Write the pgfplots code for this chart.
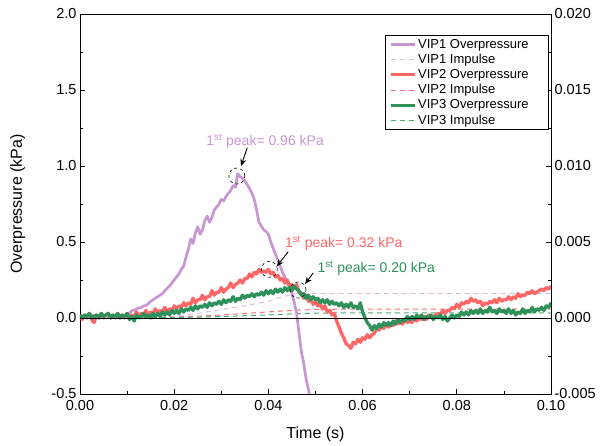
\documentclass[border=0pt]{standalone}
\usepackage{fontspec}
\setmainfont{Liberation Sans}
\usepackage{pgfplots}
\pgfplotsset{compat=1.18}
\usetikzlibrary{arrows.meta}
\definecolor{vpA}{RGB}{200,150,210}
\definecolor{vpAd}{RGB}{225,185,230}
\definecolor{vpB}{RGB}{255,102,102}
\definecolor{vpBd}{RGB}{255,110,110}
\definecolor{vpC}{RGB}{46,145,90}
\definecolor{vpCd}{RGB}{70,170,115}
\pgfplotsset{
  common/.style={scale only axis, width=471pt, height=380pt, xmin=0, xmax=0.1,
    tick align=inside, major tick length=5pt, minor tick length=3pt,
    every tick/.style={black, line width=0.8pt},
    tick label style={font=\fontsize{14.5}{16}\selectfont},
    /pgf/number format/assume math mode=true,
    axis line style={line width=0.9pt}},
}
\begin{document}
\begin{tikzpicture}
% impulse axis (right)
\begin{axis}[common, axis x line=none, axis y line*=right,
  ymin=-0.005, ymax=0.02, ytick={-0.005,0,0.005,0.01,0.015,0.02},
  minor y tick num=1, scaled y ticks=false,
  yticklabel style={/pgf/number format/.cd, fixed, fixed zerofill, precision=3},
  legend style={at={(0.996,0.945)}, anchor=north east, draw=black, line width=0.8pt,
    fill=white, font=\fontsize{13}{15}\selectfont, row sep=0.4pt, inner xsep=4pt, inner ysep=2pt},
  legend cell align=left,
  legend image code/.code={\draw[#1] (0pt,0pt) -- (24pt,0pt);}]
\addlegendimage{vpA, line width=2.5pt}
\addlegendentry{VIP1 Overpressure\hspace*{14pt}}
\addplot[vpAd, line width=1pt, dash pattern=on 5pt off 4pt] coordinates {
(0,0) (0.010,0) (0.015,0.00003) (0.020,0.00012) (0.025,0.0003) (0.030,0.00055)
(0.035,0.0008) (0.040,0.0011) (0.043,0.0014) (0.046,0.0016) (0.047,0.00162) (0.100,0.00162)};
\addlegendentry{VIP1 Impulse}
\addlegendimage{vpB, line width=3pt}
\addlegendentry{VIP2 Overpressure}
\addplot[vpBd, line width=1pt, dash pattern=on 5pt off 4pt] coordinates {
(0,0) (0.012,0) (0.015,0.00002) (0.020,0.00006) (0.025,0.00012) (0.030,0.0002)
(0.035,0.0003) (0.040,0.0004) (0.045,0.0005) (0.050,0.00056) (0.055,0.00058) (0.100,0.00058)};
\addlegendentry{VIP2 Impulse}
\addlegendimage{vpC, line width=3pt}
\addlegendentry{VIP3 Overpressure}
\addplot[vpCd, line width=1pt, dash pattern=on 5pt off 4pt] coordinates {
(0,0) (0.012,0) (0.020,0.00003) (0.025,0.00006) (0.030,0.0001) (0.035,0.00015)
(0.040,0.0002) (0.045,0.00027) (0.050,0.00032) (0.055,0.00033) (0.100,0.00033)};
\addlegendentry{VIP3 Impulse}
\end{axis}
% overpressure axis (left)
\begin{axis}[common, name=main, xtick pos=bottom, ytick pos=left,
  ymin=-0.5, ymax=2, ytick={-0.5,0,0.5,1,1.5,2}, minor y tick num=1,
  xtick={0,0.02,0.04,0.06,0.08,0.1}, minor x tick num=1, scaled x ticks=false,
  xticklabel style={yshift=-3pt, /pgf/number format/.cd, fixed, fixed zerofill, precision=2},
  yticklabel style={/pgf/number format/.cd, fixed, fixed zerofill, precision=1},
  xlabel={Time (s)}, ylabel={Overpressure (kPa)},
  label style={font=\fontsize{16}{18}\selectfont},
  xlabel style={at={(axis description cs:0.5,-0.105)}, anchor=center},
  ylabel style={at={(axis description cs:-0.132,0.5)}, anchor=center},
  line join=round]
\addplot[vpA, line width=2.7pt] coordinates {
(0.000,0.01) (0.002,0.02) (0.004,0.01) (0.006,0.02) (0.008,0.01) (0.010,0.02)
(0.0105,0.03) (0.011,0.05) (0.0115,0.05) (0.012,0.06) (0.013,0.07) (0.0135,0.08) (0.014,0.08) (0.015,0.11)
(0.0155,0.12) (0.016,0.13) (0.017,0.15) (0.0175,0.16) (0.018,0.18) (0.019,0.21) (0.0195,0.23) (0.020,0.25) (0.021,0.29)
(0.0215,0.32) (0.022,0.34) (0.0225,0.40) (0.023,0.45) (0.0235,0.52) (0.024,0.49) (0.0245,0.56) (0.025,0.60) (0.0255,0.55)
(0.026,0.58) (0.0265,0.64) (0.027,0.67) (0.0275,0.63) (0.028,0.66) (0.0285,0.71) (0.029,0.73) (0.0295,0.75) (0.030,0.78)
(0.0305,0.77) (0.031,0.80) (0.0315,0.82) (0.032,0.84) (0.0325,0.87) (0.033,0.86) (0.0335,0.95) (0.034,0.93)
(0.0345,0.92) (0.035,0.90) (0.0355,0.88) (0.036,0.85) (0.0365,0.82) (0.037,0.78) (0.0375,0.71) (0.038,0.63) (0.039,0.58)
(0.0395,0.57) (0.040,0.55) (0.0405,0.50) (0.041,0.46) (0.0415,0.42) (0.042,0.38) (0.0425,0.34) (0.043,0.30) (0.0435,0.27) (0.044,0.23) (0.045,0.16)
(0.0455,0.10) (0.046,0.03) (0.0465,-0.10) (0.047,-0.22) (0.0475,-0.30) (0.048,-0.40)
(0.0485,-0.47) (0.049,-0.55)};
\addplot[vpB, line width=3.3pt] coordinates {
(0.0000,0.02) (0.0005,-0.01) (0.0010,0.02) (0.0015,0.00) (0.0020,0.03) (0.0025,-0.01)
(0.0030,-0.03) (0.0035,0.02) (0.0040,0.00) (0.0045,0.03) (0.0050,0.00) (0.0055,0.02)
(0.0060,0.03) (0.0065,0.00) (0.0070,0.02) (0.0075,0.00) (0.0080,0.03) (0.0085,0.01)
(0.0090,0.02) (0.0095,0.00) (0.0100,0.03) (0.0105,0.00) (0.0110,0.02) (0.0115,0.01)
(0.0120,0.04) (0.0125,0.01) (0.0130,0.03) (0.0135,0.02) (0.0140,0.05) (0.0145,0.02)
(0.0150,0.04) (0.0155,0.03) (0.0160,0.06) (0.0165,0.03) (0.0170,0.05) (0.0175,0.04)
(0.0180,0.07) (0.0185,0.04) (0.0190,0.06) (0.0195,0.05) (0.0200,0.08) (0.0205,0.06)
(0.0210,0.08) (0.0215,0.07) (0.0220,0.10) (0.0225,0.08) (0.0230,0.10) (0.0235,0.09)
(0.0240,0.13) (0.0245,0.10) (0.0250,0.12) (0.0255,0.12) (0.0260,0.15) (0.0265,0.12)
(0.0270,0.14) (0.0275,0.14) (0.0280,0.18) (0.0285,0.15) (0.0290,0.17) (0.0295,0.17)
(0.0300,0.20) (0.0305,0.17) (0.0310,0.19) (0.0315,0.20) (0.0320,0.23) (0.0325,0.20)
(0.0330,0.22) (0.0335,0.23) (0.0340,0.25) (0.0345,0.23) (0.0350,0.26) (0.0355,0.26)
(0.0360,0.29) (0.0365,0.27) (0.0370,0.30) (0.0375,0.29) (0.0380,0.32) (0.0385,0.30)
(0.0390,0.31) (0.0395,0.30) (0.0400,0.32) (0.0405,0.29) (0.0410,0.30) (0.0415,0.27)
(0.0420,0.28) (0.0425,0.25) (0.0430,0.26) (0.0435,0.23) (0.0440,0.25) (0.0445,0.21)
(0.0450,0.22) (0.0455,0.20) (0.0460,0.22) (0.0465,0.17) (0.0470,0.16) (0.0475,0.13)
(0.0480,0.15) (0.0485,0.11) (0.0490,0.12) (0.0495,0.09) (0.0500,0.11) (0.0505,0.08)
(0.0510,0.09) (0.0515,0.06) (0.0520,0.08) (0.0525,0.04) (0.0530,0.05) (0.0535,0.02)
(0.0540,0.03) (0.0545,-0.02) (0.0550,-0.06) (0.0555,-0.10) (0.0560,-0.13) (0.0565,-0.17)
(0.0570,-0.18) (0.0575,-0.20) (0.0580,-0.16) (0.0585,-0.17) (0.0590,-0.14) (0.0595,-0.16)
(0.0600,-0.13) (0.0605,-0.14) (0.0610,-0.11) (0.0615,-0.13) (0.0620,-0.11) (0.0625,-0.10)
(0.0630,-0.07) (0.0635,-0.08) (0.0640,-0.05) (0.0645,-0.07) (0.0650,-0.04) (0.0655,-0.06)
(0.0660,-0.04) (0.0665,-0.05) (0.0670,-0.02) (0.0675,-0.04) (0.0680,-0.03) (0.0685,-0.04)
(0.0690,-0.01) (0.0695,-0.03) (0.0700,-0.02) (0.0705,-0.03) (0.0710,0.00) (0.0715,-0.02)
(0.0720,0.00) (0.0725,-0.01) (0.0730,0.01) (0.0735,-0.01) (0.0740,0.02) (0.0745,0.00)
(0.0750,0.01) (0.0755,0.02) (0.0760,0.03) (0.0765,0.02) (0.0770,0.05) (0.0775,0.03)
(0.0780,0.05) (0.0785,0.05) (0.0790,0.07) (0.0795,0.06) (0.0800,0.09) (0.0805,0.07)
(0.0810,0.10) (0.0815,0.09) (0.0820,0.11) (0.0825,0.10) (0.0830,0.13) (0.0835,0.11)
(0.0840,0.12) (0.0845,0.10) (0.0850,0.11) (0.0855,0.08) (0.0860,0.10) (0.0865,0.09)
(0.0870,0.11) (0.0875,0.10) (0.0880,0.12) (0.0885,0.10) (0.0890,0.13) (0.0895,0.11)
(0.0900,0.12) (0.0905,0.12) (0.0910,0.14) (0.0915,0.12) (0.0920,0.14) (0.0925,0.13)
(0.0930,0.16) (0.0935,0.14) (0.0940,0.15) (0.0945,0.15) (0.0950,0.17) (0.0955,0.16)
(0.0960,0.18) (0.0965,0.16) (0.0970,0.17) (0.0975,0.18) (0.0980,0.19) (0.0985,0.18)
(0.0990,0.20) (0.0995,0.19) (0.1000,0.21)};
\addplot[vpC, line width=3.3pt] coordinates {
(0.0000,0.02) (0.0005,0.00) (0.0010,0.02) (0.0015,0.01) (0.0020,0.03) (0.0025,0.00)
(0.0030,0.01) (0.0035,0.02) (0.0040,0.00) (0.0045,0.03) (0.0050,0.01) (0.0055,0.02)
(0.0060,0.03) (0.0065,0.00) (0.0070,0.02) (0.0075,0.01) (0.0080,0.03) (0.0085,0.00)
(0.0090,0.02) (0.0095,0.01) (0.0100,0.03) (0.0105,-0.01) (0.0110,0.01) (0.0115,-0.02)
(0.0120,0.02) (0.0125,0.00) (0.0130,0.01) (0.0135,0.03) (0.0140,0.01) (0.0145,0.02)
(0.0150,0.00) (0.0155,0.03) (0.0160,0.01) (0.0165,0.03) (0.0170,0.01) (0.0175,0.04)
(0.0180,0.02) (0.0185,0.04) (0.0190,0.02) (0.0195,0.05) (0.0200,0.03) (0.0205,0.05)
(0.0210,0.03) (0.0215,0.06) (0.0220,0.04) (0.0225,0.06) (0.0230,0.05) (0.0235,0.07)
(0.0240,0.05) (0.0245,0.08) (0.0250,0.06) (0.0255,0.08) (0.0260,0.07) (0.0265,0.09)
(0.0270,0.07) (0.0275,0.10) (0.0280,0.08) (0.0285,0.10) (0.0290,0.09) (0.0295,0.11)
(0.0300,0.09) (0.0305,0.12) (0.0310,0.10) (0.0315,0.12) (0.0320,0.11) (0.0325,0.14)
(0.0330,0.11) (0.0335,0.13) (0.0340,0.12) (0.0345,0.15) (0.0350,0.13) (0.0355,0.15)
(0.0360,0.14) (0.0365,0.16) (0.0370,0.14) (0.0375,0.16) (0.0380,0.15) (0.0385,0.17)
(0.0390,0.15) (0.0395,0.18) (0.0400,0.16) (0.0405,0.18) (0.0410,0.16) (0.0415,0.19)
(0.0420,0.17) (0.0425,0.19) (0.0430,0.17) (0.0435,0.20) (0.0440,0.18) (0.0445,0.20)
(0.0450,0.18) (0.0455,0.21) (0.0460,0.19) (0.0465,0.18) (0.0470,0.15) (0.0475,0.16)
(0.0480,0.13) (0.0485,0.15) (0.0490,0.12) (0.0495,0.14) (0.0500,0.12) (0.0505,0.13)
(0.0510,0.10) (0.0515,0.12) (0.0520,0.10) (0.0525,0.12) (0.0530,0.09) (0.0535,0.11)
(0.0540,0.09) (0.0545,0.10) (0.0550,0.08) (0.0555,0.10) (0.0560,0.07) (0.0565,0.09)
(0.0570,0.07) (0.0575,0.10) (0.0580,0.07) (0.0585,0.08) (0.0590,0.06) (0.0595,0.10)
(0.0600,0.04) (0.0605,0.00) (0.0610,-0.03) (0.0615,-0.05) (0.0620,-0.08) (0.0625,-0.05)
(0.0630,-0.07) (0.0635,-0.04) (0.0640,-0.06) (0.0645,-0.03) (0.0650,-0.05) (0.0655,-0.03)
(0.0660,-0.05) (0.0665,-0.02) (0.0670,-0.04) (0.0675,-0.01) (0.0680,-0.03) (0.0685,-0.01)
(0.0690,-0.02) (0.0695,0.01) (0.0700,-0.01) (0.0705,0.01) (0.0710,-0.01) (0.0715,0.02)
(0.0720,0.00) (0.0725,0.02) (0.0730,-0.01) (0.0735,0.01) (0.0740,0.00) (0.0745,0.02)
(0.0750,-0.01) (0.0755,0.01) (0.0760,0.00) (0.0765,0.02) (0.0770,-0.01) (0.0775,0.01)
(0.0780,-0.02) (0.0785,0.00) (0.0790,0.02) (0.0795,0.00) (0.0800,0.02) (0.0805,0.01)
(0.0810,0.04) (0.0815,0.02) (0.0820,0.04) (0.0825,0.02) (0.0830,0.05) (0.0835,0.03)
(0.0840,0.05) (0.0845,0.03) (0.0850,0.06) (0.0855,0.03) (0.0860,0.05) (0.0865,0.04)
(0.0870,0.07) (0.0875,0.04) (0.0880,0.05) (0.0885,0.03) (0.0890,0.06) (0.0895,0.04)
(0.0900,0.05) (0.0905,0.03) (0.0910,0.06) (0.0915,0.03) (0.0920,0.05) (0.0925,0.02)
(0.0930,0.04) (0.0935,0.03) (0.0940,0.06) (0.0945,0.03) (0.0950,0.05) (0.0955,0.04)
(0.0960,0.07) (0.0965,0.04) (0.0970,0.06) (0.0975,0.05) (0.0980,0.07) (0.0985,0.05)
(0.0990,0.08) (0.0995,0.07) (0.1000,0.10)};
\addplot[black, line width=0.9pt] coordinates {(0,0) (0.1,0)};
% annotations
\node[text=vpA, font=\fontsize{14}{16}\selectfont] at (axis cs:0.0393,1.164) {1\textsuperscript{st} peak= 0.96 kPa};
\draw[-{Stealth[length=7pt,width=6pt]}, line width=0.9pt] (axis cs:0.0355,1.12) -- (axis cs:0.0342,1.0);
\draw[dashed, line width=0.6pt] (axis cs:0.0333,0.934) circle [radius=8pt];
\node[text=vpB, font=\fontsize{14}{16}\selectfont] at (axis cs:0.056,0.493) {1\textsuperscript{st} peak= 0.32 kPa};
\draw[-{Stealth[length=7pt,width=6pt]}, line width=0.9pt] (axis cs:0.0442,0.436) -- (axis cs:0.0418,0.34);
\draw[dashed, line width=0.6pt] (axis cs:0.0402,0.32) circle [radius=8pt];
\node[text=vpC, font=\fontsize{14}{16}\selectfont] at (axis cs:0.0629,0.329) {1\textsuperscript{st} peak= 0.20 kPa};
\draw[-{Stealth[length=7pt,width=6pt]}, line width=0.9pt] (axis cs:0.0495,0.296) -- (axis cs:0.0478,0.224);
\draw[dashed, line width=0.6pt] (axis cs:0.0463,0.184) circle [radius=8pt];
\end{axis}
\pgfresetboundingbox
\path ([shift={(-80pt,-52pt)}]main.south west) rectangle ([shift={(57pt,14pt)}]main.north east);
\end{tikzpicture}
\end{document}
